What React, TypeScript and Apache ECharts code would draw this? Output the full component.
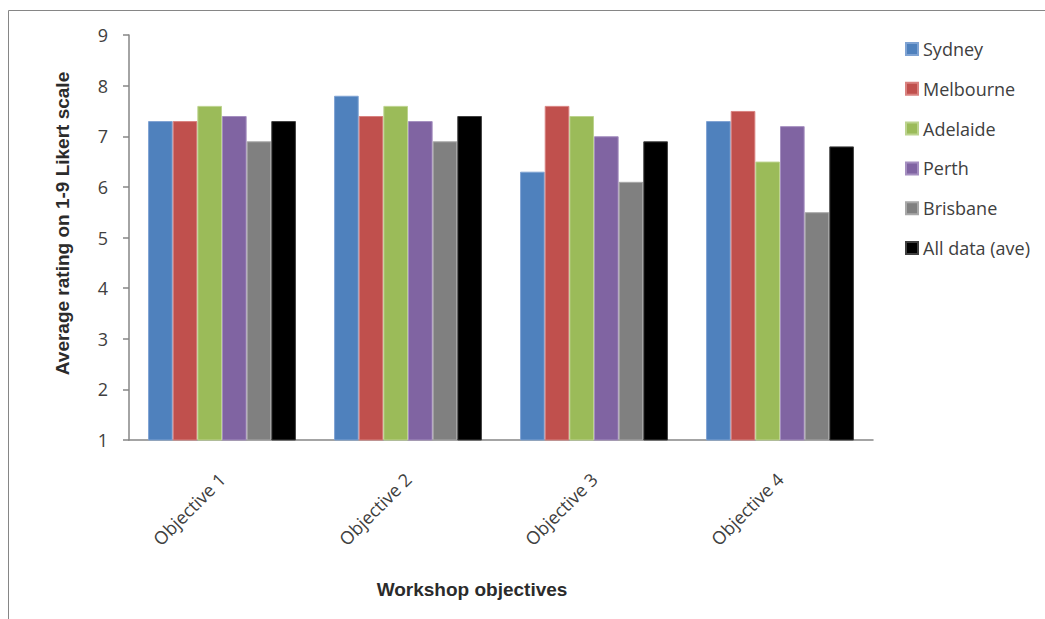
import React, { useEffect, useRef } from "react";
import * as echarts from "echarts";

// Workshop objective ratings by city (1-9 Likert scale)
const objectives = ["Objective 1", "Objective 2", "Objective 3", "Objective 4"];
const sydney = [7.3, 7.8, 6.3, 7.3];
const melbourne = [7.3, 7.4, 7.6, 7.5];
const adelaide = [7.6, 7.6, 7.4, 6.5];
const perth = [7.4, 7.3, 7.0, 7.2];
const brisbane = [6.9, 6.9, 6.1, 5.5];
const allDataAve = [7.3, 7.4, 6.9, 6.8];
const yTicks = [1, 2, 3, 4, 5, 6, 7, 8, 9];

const seriesDefs = [
  { name: "Sydney", data: sydney, color: "#4F81BD", edge: "#7fa3d3" },
  { name: "Melbourne", data: melbourne, color: "#C0504D", edge: "#d98280" },
  { name: "Adelaide", data: adelaide, color: "#9BBB59", edge: "#bcd38e" },
  { name: "Perth", data: perth, color: "#8064A2", edge: "#a58fc0" },
  { name: "Brisbane", data: brisbane, color: "#808080", edge: "#a8a8a8" },
  { name: "All data (ave)", data: allDataAve, color: "#000000", edge: "#404040" },
];

const labelFont = "'Open Sans', 'Noto Sans', sans-serif";
const titleFont = "'Liberation Sans', Arial, sans-serif";
const axisGray = "#868686";
const textGray = "#404040";

export default function App() {
  const ref = useRef<HTMLDivElement>(null);

  useEffect(() => {
    if (!ref.current) return;
    const chart = echarts.init(ref.current, null, { renderer: "svg" });
    chart.setOption({
      animation: false,
      backgroundColor: "#ffffff",
      graphic: [
        {
          type: "rect",
          shape: { x: 8.5, y: 10.5, width: 1200, height: 800 },
          style: { fill: "none", stroke: axisGray, lineWidth: 1 },
          silent: true,
        },
      ],
      grid: { left: 129, right: 172, top: 35, bottom: 179, containLabel: false },
      legend: {
        orient: "vertical",
        left: 900,
        top: 35,
        itemWidth: 12,
        itemHeight: 12,
        itemGap: 21.8,
        icon: "rect",
        textStyle: {
          fontFamily: labelFont,
          fontSize: 18,
          color: textGray,
          lineHeight: 18,
        },
        data: seriesDefs.map((s) => s.name),
      },
      xAxis: {
        type: "category",
        data: objectives,
        name: "Workshop objectives",
        nameLocation: "middle",
        nameGap: 140,
        nameTextStyle: {
          fontFamily: titleFont,
          fontWeight: "bold",
          fontSize: 19,
          color: "#2b2b2b",
          padding: [0, 58, 0, 0],
        },
        axisLine: { lineStyle: { color: axisGray, width: 1.5 } },
        axisTick: { show: false },
        axisLabel: {
          rotate: 45,
          margin: 36,
          fontFamily: labelFont,
          fontSize: 18,
          color: textGray,
        },
      },
      yAxis: {
        type: "value",
        min: yTicks[0],
        max: yTicks[yTicks.length - 1],
        interval: 1,
        name: "Average rating on 1-9 Likert scale",
        nameLocation: "middle",
        nameGap: 57,
        nameTextStyle: {
          fontFamily: titleFont,
          fontWeight: "bold",
          fontSize: 19,
          color: "#2b2b2b",
          padding: [0, 0, 0, 28],
        },
        axisLine: { show: true, lineStyle: { color: axisGray, width: 1.5 } },
        axisTick: { show: true, length: 6, lineStyle: { color: axisGray, width: 1.5 } },
        splitLine: { show: false },
        axisLabel: {
          margin: 21,
          fontFamily: labelFont,
          fontSize: 18,
          color: textGray,
        },
      },
      series: seriesDefs.map((s) => ({
        type: "bar",
        name: s.name,
        data: s.data,
        barGap: "0%",
        barCategoryGap: "20.5%",
        itemStyle: { color: s.color, borderColor: s.edge, borderWidth: 1 },
      })),
    });
    return () => chart.dispose();
  }, []);

  return (
    <div
      ref={ref}
      style={{ position: "fixed", left: 0, top: 0, width: 1045, height: 619 }}
    />
  );
}
